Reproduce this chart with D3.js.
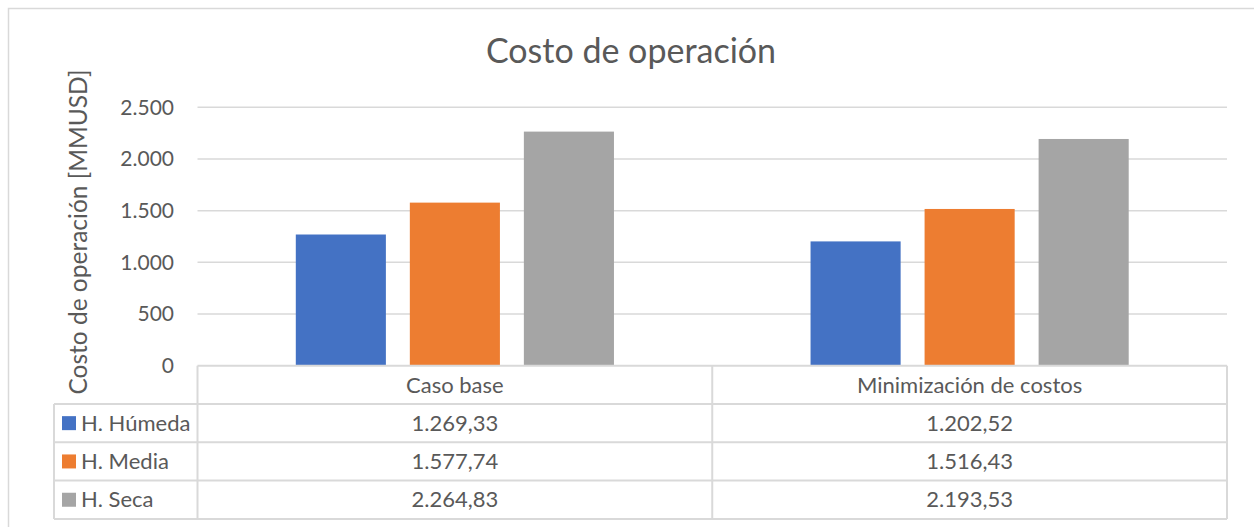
<!DOCTYPE html>
<html>
<head>
<meta charset="utf-8">
<script src="https://cdn.jsdelivr.net/npm/d3@7"></script>
<style>
  body { margin: 0; background: #fff; }
  text { font-family: Lato, "Open Sans", sans-serif; fill: #595959; }
</style>
</head>
<body>
<div id="chart"></div>
<script>
// data
var categories = ["Caso base", "Minimización de costos"];
var seriesNames = ["H. Húmeda", "H. Media", "H. Seca"];
var humeda = [1269.33, 1202.52];
var media = [1577.74, 1516.43];
var seca = [2264.83, 2193.53];
var yTicks = [0, 500, 1000, 1500, 2000, 2500];
var colors = ["#4472c4", "#ed7d31", "#a5a5a5"];

var values = [humeda, media, seca];

var width = 1254;
var height = 527;
var plot = {left: 197.5, right: 1227, top: 107.3, bottom: 365.7};
var rowH = 38.3;
var legendLeft = 54;

var loc = d3.formatLocale({decimal: ",", thousands: ".", grouping: [3], currency: ["$", ""]});
var fmtTick = loc.format(",");
var fmtVal = loc.format(",.2f");

var svg = d3.select("#chart")
    .append("svg")
    .attr("width", width)
    .attr("height", height);

svg.append("rect")
    .attr("width", width).attr("height", height)
    .attr("fill", "#fff");

// outer frame
svg.append("rect")
    .attr("x", 8.5).attr("y", 8.5)
    .attr("width", 1262).attr("height", 540)
    .attr("fill", "none")
    .attr("stroke", "#d9d9d9")
    .attr("stroke-width", 1.5);

var y = d3.scaleLinear()
    .domain([0, 2500])
    .range([plot.bottom, plot.top]);

var x = d3.scaleBand()
    .domain(categories)
    .range([plot.left, plot.right]);

var xs = d3.scaleBand()
    .domain(seriesNames)
    .range([0, x.bandwidth()])
    .paddingInner(0.21)
    .paddingOuter(0.862);

// gridlines
svg.append("g")
    .selectAll("line")
    .data(yTicks.filter(d => d > 0))
    .join("line")
      .attr("x1", plot.left)
      .attr("x2", plot.right)
      .attr("y1", d => y(d))
      .attr("y2", d => y(d))
      .attr("stroke", "#d9d9d9")
      .attr("stroke-width", 1.5);

// y axis labels
var yAxis = d3.axisLeft(y).tickValues(yTicks).tickFormat(fmtTick).tickSize(0).tickPadding(0);
svg.append("g")
    .attr("transform", "translate(174,0)")
    .call(yAxis)
    .call(g => g.select(".domain").remove())
    .call(g => g.selectAll("text")
        .attr("font-family", "Lato")
        .attr("font-size", 21)
        .attr("fill", "#595959"));

// bars
svg.append("g")
  .selectAll("g")
  .data(seriesNames)
  .join("g")
    .attr("fill", (d, i) => colors[i])
  .selectAll("rect")
  .data((s, i) => categories.map((c, j) => ({cat: c, series: s, value: values[i][j]})))
  .join("rect")
    .attr("x", d => x(d.cat) + xs(d.series))
    .attr("width", xs.bandwidth())
    .attr("y", d => y(d.value))
    .attr("height", d => y(0) - y(d.value));

// title
svg.append("text")
    .attr("x", 631)
    .attr("y", 63)
    .attr("text-anchor", "middle")
    .attr("font-size", 34)
    .text("Costo de operación");

// y axis title
svg.append("text")
    .attr("transform", "translate(87,232) rotate(-90)")
    .attr("text-anchor", "middle")
    .attr("font-size", 24.5)
    .text("Costo de operación [MMUSD]");

// data table
var tbl = svg.append("g")
    .attr("fill", "none")
    .attr("stroke", "#d9d9d9")
    .attr("stroke-width", 2);

var tableBottom = plot.bottom + rowH * (seriesNames.length + 1);
// horizontal lines
tbl.append("line")
    .attr("x1", plot.left).attr("x2", plot.right)
    .attr("y1", plot.bottom).attr("y2", plot.bottom);
d3.range(1, seriesNames.length + 2).forEach(function(r) {
  tbl.append("line")
      .attr("x1", legendLeft).attr("x2", plot.right)
      .attr("y1", plot.bottom + r * rowH).attr("y2", plot.bottom + r * rowH);
});
// vertical lines
tbl.append("line")
    .attr("x1", legendLeft).attr("x2", legendLeft)
    .attr("y1", plot.bottom + rowH).attr("y2", tableBottom);
categories.forEach(function(c) {
  tbl.append("line")
      .attr("x1", x(c)).attr("x2", x(c))
      .attr("y1", plot.bottom).attr("y2", tableBottom);
});
tbl.append("line")
    .attr("x1", plot.right).attr("x2", plot.right)
    .attr("y1", plot.bottom).attr("y2", tableBottom);

// header
svg.append("g")
  .selectAll("text")
  .data(categories)
  .join("text")
    .attr("x", d => x(d) + x.bandwidth() / 2)
    .attr("y", plot.bottom + rowH / 2)
    .attr("dy", "0.35em")
    .attr("text-anchor", "middle")
    .attr("font-size", 22)
    .text(d => d);

// legend column
var leg = svg.append("g")
  .selectAll("g")
  .data(seriesNames)
  .join("g")
    .attr("transform", (d, i) => `translate(${legendLeft}, ${plot.bottom + (i + 1) * rowH})`);
leg.append("rect")
    .attr("x", 8).attr("y", rowH / 2 - 7)
    .attr("width", 14).attr("height", 14)
    .attr("fill", (d, i) => colors[i]);
leg.append("text")
    .attr("x", 27)
    .attr("y", rowH / 2)
    .attr("dy", "0.35em")
    .attr("font-size", 22)
    .text(d => d);

// values
seriesNames.forEach(function(s, i) {
  svg.append("g")
    .selectAll("text")
    .data(categories)
    .join("text")
      .attr("x", d => x(d) + x.bandwidth() / 2)
      .attr("y", plot.bottom + (i + 1.5) * rowH)
      .attr("dy", "0.35em")
      .attr("text-anchor", "middle")
      .attr("font-size", 22)
      .text((d, j) => fmtVal(values[i][j]));
});
</script>
</body>
</html>
